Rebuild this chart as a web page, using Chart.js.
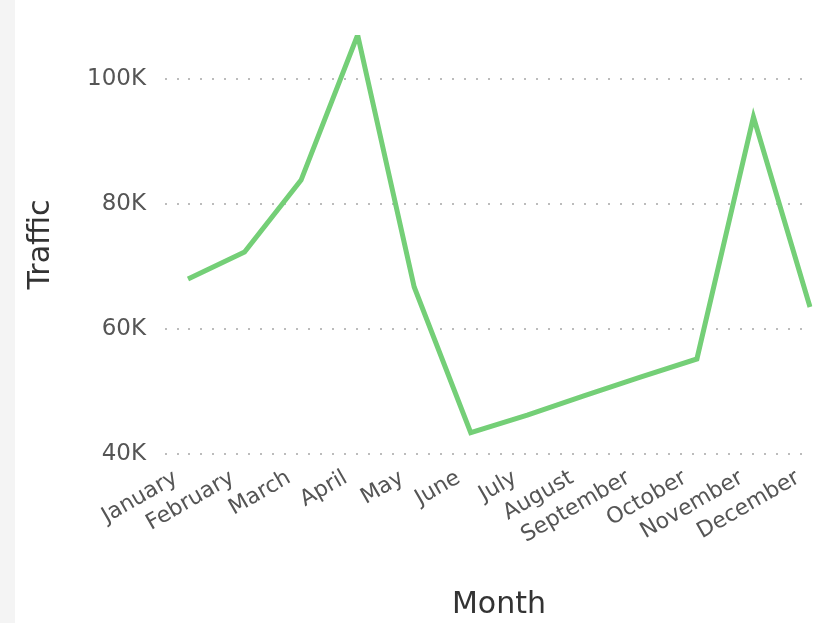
<!DOCTYPE html>
<html>
<head>
<meta charset="utf-8">
<script src="https://cdn.jsdelivr.net/npm/chart.js@4.4.1/dist/chart.umd.min.js"></script>
<style>
  html, body { margin: 0; padding: 0; background: #f4f4f4; }
  #wrap { position: absolute; left: 15px; top: 0; width: 805px; height: 623px; background: #fff; }
</style>
</head>
<body>
<div id="wrap"><canvas id="trafficChart" width="805" height="623"></canvas></div>
<script>
const months = ['January', 'February', 'March', 'April', 'May', 'June', 'July',
                'August', 'September', 'October', 'November', 'December'];
const traffic = [68000, 72300, 83800, 107000, 66700, 43400, 46200, 49300, 52300, 55200, 93900, 63500];
const yTicks = [40000, 60000, 80000, 100000];

document.addEventListener('DOMContentLoaded', function() {
    const ctx = document.getElementById('trafficChart');

    new Chart(ctx, {
        type: 'line',
        data: {
            labels: months,
            datasets: [{
                label: 'Traffic',
                data: traffic,
                borderColor: '#74cf77',
                borderWidth: 5,
                pointRadius: 0,
                tension: 0,
                fill: false
            }]
        },
        options: {
            responsive: false,
            animation: false,
            layout: { padding: { top: 35, right: 10, left: 0, bottom: 0 } },
            plugins: {
                legend: { display: false },
                tooltip: { enabled: false }
            },
            scales: {
                y: {
                    min: yTicks[0],
                    max: 107000,
                    border: { display: false, dash: [2, 10] },
                    grid: {
                        color: '#bcbcbc',
                        lineWidth: 2,
                        tickBorderDash: [2, 10],
                        tickLength: 23
                    },
                    ticks: {
                        padding: 19,
                        color: '#555',
                        font: { family: 'DejaVu Sans', size: 23 },
                        callback: v => (v / 1000) + 'K'
                    },
                    title: {
                        display: true,
                        text: 'Traffic',
                        color: '#333',
                        font: { family: 'DejaVu Sans', size: 30 },
                        padding: { top: 8, bottom: 0 }
                    },
                    afterBuildTicks: axis => {
                        axis.ticks = yTicks.map(v => ({ value: v }));
                    },
                    afterFit: scale => { scale.width = 173; }
                },
                x: {
                    border: { display: false },
                    grid: { display: false },
                    ticks: {
                        autoSkip: false,
                        minRotation: 30,
                        maxRotation: 30,
                        padding: 3,
                        labelOffset: -12,
                        color: '#555',
                        font: { family: 'DejaVu Sans', size: 22 }
                    },
                    title: {
                        display: true,
                        text: 'Month',
                        color: '#333',
                        font: { family: 'DejaVu Sans', size: 30 },
                        padding: 0
                    },
                    afterFit: scale => {
                        scale.height = 169;
                        scale.paddingLeft = 0;
                        scale.paddingRight = 0;
                    }
                }
            }
        }
    });
});
</script>
</body>
</html>
